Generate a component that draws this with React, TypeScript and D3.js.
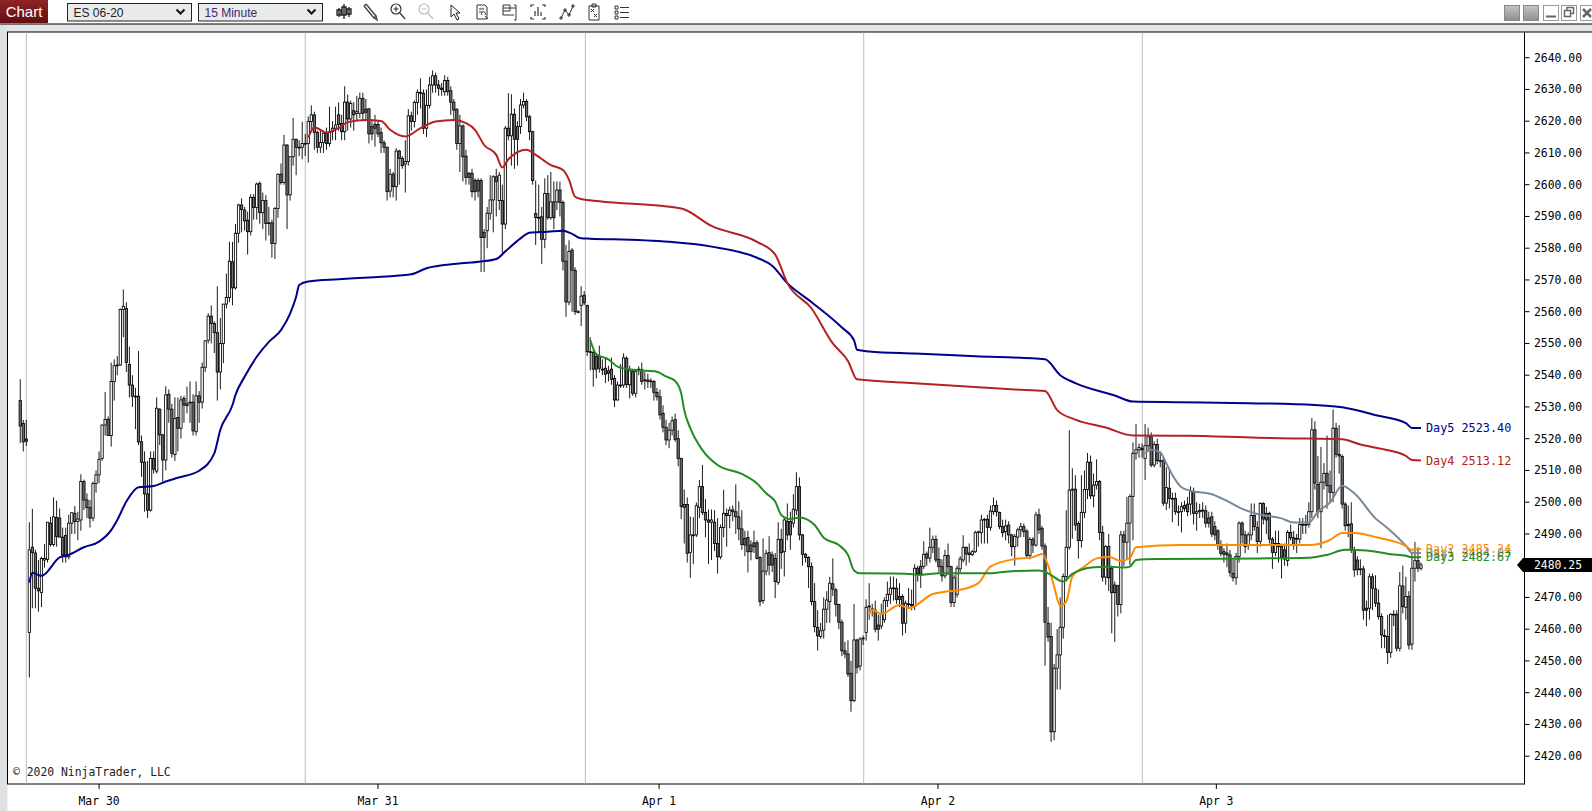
import React, { useRef, useEffect } from 'react';
import * as d3 from 'd3';

type Candle = [number, number, number, number]; // open, high, low, close
type LinePoint = [number, number]; // bar number, price

const WIDTH = 1592;
const HEIGHT = 811;

const candlesMar27: Candle[] = [
  [2532, 2538.7, 2518.6, 2524], [2524.8, 2525.9, 2516, 2519], [2519.9, 2525.9, 2517.7, 2519.2],
];

const candlesMar30: Candle[] = [
  [2459, 2493.7, 2444.8, 2485], [2485.8, 2497.9, 2466.6, 2484.1], [2484, 2485, 2466.6, 2472.9], [2472.9, 2481.8, 2465.5, 2472.1],
  [2471.6, 2482.8, 2467, 2482.3], [2481.8, 2486.8, 2479.4, 2482.3], [2482, 2493.7, 2481, 2493.7], [2493.4, 2495.4, 2486, 2486.7],
  [2486.7, 2501.5, 2486, 2495.4], [2495.2, 2500.5, 2486, 2489.2], [2495, 2498, 2489, 2489], [2489, 2492, 2481, 2483.4],
  [2489.5, 2492, 2481, 2482.8], [2482.8, 2496, 2482, 2493.4], [2493.4, 2496.7, 2490, 2496.7], [2496.5, 2498.8, 2490, 2493.9],
  [2493.9, 2497, 2488, 2494.7], [2494.4, 2508.8, 2491, 2506.5], [2506.5, 2507.1, 2497.5, 2500.7], [2500.7, 2502.8, 2495, 2498.3],
  [2498.3, 2500.7, 2492, 2495], [2495, 2506.5, 2494, 2505.9], [2505.9, 2510, 2503, 2508.6], [2508.6, 2516, 2506, 2513.5],
  [2513.8, 2524.5, 2513, 2524.3], [2524.3, 2534.7, 2521, 2526.1], [2526.1, 2527, 2521, 2521], [2521, 2544, 2517.5, 2538],
  [2538, 2545, 2532, 2543], [2543, 2546, 2540, 2543.2], [2543.2, 2561, 2543, 2560.7], [2560.7, 2567, 2552, 2561.7],
  [2561, 2563, 2541, 2544], [2543.4, 2549, 2533, 2536.9], [2536.9, 2540, 2530, 2533.4], [2533.4, 2536, 2523, 2533.4],
  [2533.4, 2547.6, 2518, 2519], [2519, 2521, 2508, 2512.6], [2512.6, 2516, 2497, 2502.6], [2502.6, 2513, 2495, 2497.5],
  [2497.5, 2516, 2497, 2513.8], [2513.8, 2516, 2509, 2510.4], [2509.8, 2533, 2509, 2529.6], [2529.3, 2529.6, 2518, 2521.2],
  [2521.2, 2521.5, 2506.5, 2513.3], [2513.3, 2536.5, 2510, 2533.8], [2534, 2535.5, 2525, 2529.3], [2529.3, 2531, 2514, 2515.4],
  [2515, 2533, 2513, 2526.4], [2526.7, 2533, 2516, 2523.3], [2523.3, 2533.5, 2520, 2532.2], [2532.7, 2533.5, 2525, 2530.6],
  [2531, 2536.4, 2528, 2530.4], [2531.4, 2538, 2525, 2531.5], [2531.5, 2534, 2521, 2522.5], [2522.2, 2538, 2521, 2533.5],
  [2533.5, 2535, 2525, 2531.5], [2531.5, 2544, 2529.5, 2542.5], [2542.5, 2551, 2541, 2550.8], [2551, 2559.5, 2550, 2558.6],
  [2558.6, 2562, 2550, 2556.3], [2556.3, 2557, 2547, 2553.4], [2553.4, 2568, 2532, 2541], [2541, 2558, 2535.5, 2550],
  [2550, 2562.4, 2543.8, 2562.4], [2562.4, 2572, 2561, 2564.5], [2564.5, 2582, 2563, 2575.9], [2575.7, 2582, 2562, 2567.5],
  [2567.5, 2587.6, 2567, 2584.7], [2584.7, 2594, 2581.7, 2593.6], [2593.6, 2595.7, 2585, 2592.2], [2592, 2593, 2585.5, 2588.6],
  [2588.8, 2591.5, 2578, 2585.2], [2585.2, 2597, 2584, 2596], [2596, 2597, 2589, 2592.8], [2592.8, 2600.7, 2589, 2600.2],
  [2600.4, 2601, 2587.7, 2591.2], [2591.2, 2597.5, 2586, 2595], [2595, 2596.7, 2582.4, 2587.8], [2588, 2593, 2584, 2588],
  [2588, 2589, 2577, 2581.5], [2581.5, 2593, 2576.6, 2592.5], [2592.5, 2603.5, 2589.6, 2603.3], [2603.3, 2606.7, 2600, 2600.7],
  [2600.7, 2615.7, 2600, 2612.5], [2612.5, 2612.7, 2586, 2596.8], [2596.8, 2609, 2595, 2608.8], [2608.8, 2621, 2606, 2614.3],
  [2614.3, 2614.5, 2603, 2611.8], [2611.8, 2614, 2609, 2611.8], [2611.8, 2619.8, 2608, 2613], [2613, 2616, 2609, 2613],
];

const candlesMar31: Candle[] = [
  [2613, 2621.5, 2607, 2619.9], [2619.9, 2625, 2617, 2622], [2622, 2623, 2611, 2616.5], [2616.5, 2617, 2610, 2611.8],
  [2611.8, 2617, 2610, 2613.3], [2613.3, 2617, 2610, 2616.2], [2616.2, 2618, 2611, 2613], [2613, 2624.6, 2612, 2616.7],
  [2616.7, 2620, 2614, 2617.8], [2617.8, 2624.6, 2614, 2618.8], [2622, 2625.9, 2617, 2619], [2619.3, 2622, 2614, 2616.7],
  [2616.7, 2631, 2614, 2626], [2626, 2628.4, 2617, 2620.7], [2620.7, 2626.5, 2618, 2625.6], [2623.3, 2626, 2617, 2622],
  [2622.4, 2628, 2620, 2623], [2622.5, 2629, 2621, 2627.2], [2627.2, 2629, 2620, 2622.5], [2623.8, 2627, 2620, 2622.8],
  [2623.9, 2624, 2613, 2616], [2618.3, 2620, 2614, 2616], [2619, 2622, 2612, 2617.8], [2619, 2620, 2615, 2616],
  [2616.4, 2618, 2610, 2613.2], [2613.2, 2614, 2610, 2611.8], [2611.8, 2612, 2595, 2597.8], [2598, 2605, 2596, 2603.3],
  [2603.3, 2604, 2596, 2599.4], [2599.4, 2611.5, 2595, 2610.6], [2610.6, 2611, 2600, 2608.3], [2608.3, 2609, 2605, 2606],
  [2606.5, 2614, 2597.5, 2607.3], [2607.3, 2623.8, 2606, 2621.7], [2621.7, 2623, 2617, 2619.9], [2619.9, 2626.5, 2618, 2625.9],
  [2625.9, 2630, 2622, 2629.1], [2629.1, 2633.5, 2624, 2628.8], [2628.8, 2630, 2616, 2617.8], [2617.8, 2630, 2615, 2625],
  [2625, 2634, 2624, 2631.4], [2631.4, 2636, 2629, 2634.3], [2634.3, 2635.3, 2629, 2631.4], [2631.4, 2633, 2628, 2630.4],
  [2630.4, 2632, 2628, 2630], [2629.3, 2634.5, 2628, 2632.8], [2632.8, 2634, 2628, 2629.3], [2629.6, 2631, 2622, 2626],
  [2626, 2627, 2620, 2623.5], [2623.8, 2624, 2611, 2613], [2613, 2622, 2604, 2618.5], [2618.5, 2619, 2601, 2608.8],
  [2609, 2611, 2600, 2602.3], [2603.6, 2604, 2600, 2602.3], [2603.6, 2605, 2596, 2597.8], [2601.3, 2602, 2595, 2597.8],
  [2601.3, 2602, 2596, 2598], [2601.3, 2602, 2572.5, 2583.4], [2585, 2586, 2572.5, 2583.4], [2585.5, 2593, 2580, 2591],
  [2591, 2603, 2589, 2595.2], [2595.2, 2603, 2585, 2602.5], [2602.5, 2605, 2590, 2601], [2595, 2604, 2592, 2603],
  [2595, 2600, 2578.5, 2587.6], [2587.6, 2618.5, 2586, 2617.8], [2617.8, 2628.8, 2614, 2615.4], [2615.4, 2628.5, 2606, 2622.2],
  [2622.2, 2624, 2605, 2614.3], [2618.3, 2620, 2606, 2614.3], [2618.3, 2627, 2616, 2625.1], [2625.1, 2629, 2624, 2626.2],
  [2626.2, 2627, 2620, 2621.4], [2621.4, 2622, 2614, 2616.7], [2616.7, 2617, 2600, 2601.3], [2590.9, 2601.3, 2581, 2589.7],
  [2589.7, 2600, 2585, 2589.6], [2589.9, 2593, 2575, 2582.8], [2582.8, 2602, 2580, 2597.2], [2597.2, 2603, 2589, 2589.6],
  [2589.6, 2604, 2589, 2594.6], [2594.6, 2601, 2586, 2589.6], [2594.6, 2601, 2592, 2598.3], [2598.3, 2601, 2590, 2594.4],
  [2594.4, 2595, 2573, 2575.9], [2575.9, 2581, 2558.4, 2563.1], [2563, 2582.5, 2562, 2579], [2579.4, 2580, 2560, 2573.1],
  [2573, 2574, 2559, 2560], [2560, 2560.5, 2559.5, 2560], [2562, 2568, 2555.5, 2564.9], [2565.2, 2566.5, 2562, 2562.8],
];

const candlesApr1: Candle[] = [
  [2562, 2562.2, 2546, 2547.4], [2547.4, 2552, 2541.5, 2547.2], [2547.2, 2548, 2536.4, 2541.9], [2545.9, 2547, 2539, 2541.9],
  [2545.9, 2549.3, 2540.8, 2542.2], [2541.8, 2545, 2540, 2541.9], [2542.2, 2545.5, 2537.5, 2540.3], [2541.4, 2543, 2538, 2540.6],
  [2541.9, 2545.5, 2537, 2538.7], [2539, 2540, 2530, 2532.2], [2532.2, 2538, 2532, 2536.9], [2536.9, 2543.5, 2536, 2536.9],
  [2536.9, 2546.9, 2536, 2545.5], [2545.3, 2546, 2536, 2537.1], [2537, 2543, 2532.7, 2541.4], [2541.1, 2542, 2533.5, 2534.3],
  [2534.3, 2542, 2533, 2541.1], [2541.6, 2542.8, 2540, 2541.9], [2541.7, 2544, 2537, 2538], [2538.5, 2541, 2535.5, 2538.5],
  [2538.5, 2540.5, 2536, 2538], [2538.2, 2539, 2536, 2538], [2538, 2538.5, 2532, 2534.6], [2534.6, 2536, 2532, 2533.2],
  [2533.2, 2535.5, 2526, 2527.5], [2528, 2530.5, 2522, 2523.6], [2523.6, 2526, 2518, 2519.6], [2519.6, 2525, 2517, 2522.7],
  [2522.7, 2527, 2521, 2525.6], [2526, 2527.9, 2519, 2519.8], [2520, 2522.6, 2511.3, 2513.8], [2513.8, 2514, 2494.7, 2498.6],
  [2499.3, 2504, 2487, 2498.4], [2499.3, 2501.5, 2481, 2483.9], [2484.2, 2495.5, 2476.2, 2489.7], [2489.7, 2495.3, 2480.5, 2489.7],
  [2489.7, 2499.9, 2489, 2498.9], [2498.4, 2507, 2495, 2504.9], [2504.9, 2511.7, 2496, 2496.8], [2496.8, 2501, 2489, 2494.4],
  [2494.4, 2497.7, 2480.5, 2493.7], [2493.7, 2497.7, 2481.8, 2494.4], [2493.7, 2497.5, 2484.6, 2487], [2487, 2495, 2477.5, 2482.8],
  [2482.8, 2493, 2482, 2492], [2492, 2503.9, 2489, 2496.5], [2496.4, 2498, 2486, 2495.8], [2495.8, 2498.6, 2491.8, 2497.5],
  [2497.6, 2499, 2494, 2497], [2497, 2505.6, 2490, 2495.4], [2495.4, 2500.3, 2488, 2491.6], [2491.6, 2497.5, 2485, 2486.7],
  [2488.6, 2491, 2483, 2486.5], [2488.9, 2491, 2477.9, 2484.4], [2486.5, 2488, 2481.7, 2484.4], [2487.2, 2491, 2484, 2486],
  [2487.2, 2488, 2482, 2482.3], [2482.6, 2483, 2467.2, 2468.7], [2469, 2488.6, 2468, 2478.3], [2478.3, 2485, 2477, 2483.9],
  [2484.1, 2489.3, 2477, 2480.2], [2483.4, 2484.5, 2478, 2480.2], [2482.3, 2484, 2469.8, 2475], [2474.7, 2493.7, 2474, 2488.3],
  [2488.3, 2491.6, 2479, 2484.1], [2484.4, 2495, 2476.6, 2494.4], [2494, 2499.6, 2488, 2489.7], [2493.9, 2497, 2485, 2489.7],
  [2493.4, 2502.5, 2492, 2497.8], [2497.5, 2509.4, 2496, 2504.9], [2504.9, 2507.8, 2488, 2489.7], [2489.7, 2490, 2480, 2483.6],
  [2483.6, 2484, 2481, 2482.6], [2482.6, 2483, 2473, 2479.7], [2479.7, 2481, 2467.5, 2468.7], [2468.7, 2474.5, 2459, 2460.8],
  [2460.6, 2466, 2453.3, 2457.9], [2457.7, 2462, 2457, 2459.5], [2459.7, 2470, 2457, 2466.3], [2466.3, 2472, 2462, 2469.2],
  [2468.7, 2476.5, 2462, 2474.5], [2474.3, 2482.3, 2470.5, 2472.6], [2472.4, 2473, 2464, 2467.8], [2467.8, 2468, 2460, 2462.2],
  [2462.2, 2463, 2451.5, 2453.2], [2453.2, 2456, 2450.8, 2452.2], [2452.2, 2456.5, 2445, 2445.9], [2446.1, 2450, 2434, 2437.5],
  [2437.5, 2468, 2437, 2456.6], [2456.6, 2457, 2446, 2448], [2448.4, 2457.5, 2447, 2456.9], [2457, 2458, 2455, 2457.2],
];

const candlesApr2: Candle[] = [
  [2459, 2469.4, 2456.4, 2466.9], [2467, 2474.5, 2463, 2467.3], [2466.4, 2468, 2464, 2466], [2466, 2469, 2459, 2460],
  [2461.3, 2464.5, 2456.4, 2460], [2461, 2468, 2460, 2464.9], [2463, 2470, 2462, 2469], [2469, 2475, 2467, 2471],
  [2471, 2476.6, 2468, 2472.9], [2472.9, 2476.6, 2469, 2473], [2472.9, 2476, 2468, 2469.4], [2470.3, 2474.5, 2467, 2469.4],
  [2470.3, 2471, 2458, 2461.9], [2461.9, 2469, 2458.8, 2468.2], [2468, 2473, 2466.5, 2468], [2467.8, 2472.5, 2466, 2467.4],
  [2467.2, 2480.5, 2466, 2479.2], [2479.2, 2480, 2475, 2477.5], [2479.8, 2481.8, 2473, 2477.4], [2479.8, 2487.7, 2479, 2483.6],
  [2483.7, 2484.5, 2480, 2482.4], [2482.4, 2492, 2481, 2485.8], [2485.8, 2489.5, 2484, 2488.3], [2488.3, 2489.5, 2481, 2481.8],
  [2482, 2485.7, 2478, 2479.7], [2479.7, 2482, 2475, 2476.8], [2476.8, 2485, 2476, 2483.2], [2483.2, 2487, 2477, 2479.7],
  [2479.7, 2480, 2467, 2468.4], [2468.4, 2477, 2467, 2476.2], [2471, 2480, 2470, 2479.2], [2479, 2483, 2478, 2482.1],
  [2481.8, 2489.6, 2481, 2485.8], [2485.8, 2486, 2480, 2483.7], [2484, 2487, 2481, 2483.5], [2483.5, 2485, 2483, 2484.4],
  [2484.4, 2491, 2484, 2490.4], [2490.6, 2491, 2486, 2490.7], [2490.4, 2496, 2487, 2494.4], [2494.6, 2495, 2487, 2494.6],
  [2494.6, 2496, 2487, 2492.1], [2492.1, 2499, 2491, 2497.2], [2497, 2501.5, 2496, 2498.9], [2499, 2500.5, 2495.5, 2497],
  [2496.8, 2497, 2491.5, 2492.3], [2492.3, 2494.5, 2489, 2490.4], [2490.7, 2494.5, 2488, 2492.5], [2492.8, 2494, 2487, 2489.7],
  [2489.7, 2490, 2483, 2486], [2486, 2490, 2480, 2489.2], [2489, 2492, 2486, 2491.3], [2491.3, 2493.5, 2489, 2492.3],
  [2492.3, 2493.3, 2489, 2490.7], [2490.9, 2491.5, 2482.5, 2483.2], [2483.2, 2489, 2482, 2488.3], [2488.3, 2489, 2484, 2486.5],
  [2486.5, 2497, 2486, 2496], [2496, 2498, 2490, 2491.3], [2491.8, 2492.5, 2485, 2486.2], [2486.2, 2487, 2448.5, 2462.2],
  [2461.9, 2467, 2456, 2457.5], [2457.7, 2462, 2424.5, 2427.7], [2427.7, 2449, 2425, 2447.7], [2447.7, 2460, 2441, 2451.9],
  [2451.9, 2470, 2441, 2460.6], [2460.6, 2477.5, 2457, 2476.6], [2476.6, 2497.5, 2475, 2485.8], [2485.8, 2522.7, 2485, 2503.8],
  [2503.8, 2510.7, 2488.5, 2504.1], [2504.1, 2508.5, 2491, 2492.8], [2493.3, 2494, 2482.2, 2487.9], [2487.9, 2508.5, 2485.7, 2496.8],
  [2496.8, 2510, 2495, 2504], [2504, 2515.5, 2501, 2512.6], [2512.6, 2514.7, 2501, 2502], [2502, 2509, 2498.4, 2505.4],
  [2505.4, 2513.5, 2504, 2506.5], [2506.5, 2507, 2488, 2490.5], [2490.5, 2492.6, 2475, 2476.4], [2476.4, 2486.5, 2474, 2486],
  [2486, 2490, 2472, 2476.2], [2479.2, 2480, 2458.7, 2471.5], [2473.9, 2475, 2456, 2471.5], [2473.7, 2474, 2464, 2467.8],
  [2467.8, 2491, 2465, 2489.7], [2489.7, 2491, 2480, 2487.4], [2487.4, 2501.6, 2482, 2493.4], [2493.4, 2502.5, 2480.2, 2501.8],
  [2501.8, 2518.8, 2488, 2515.4], [2515.4, 2524.6, 2513.4, 2516.5], [2516.5, 2518.5, 2514, 2517.2], [2517, 2518.5, 2514, 2516.5],
];

const candlesApr3: Candle[] = [
  [2513.8, 2524.6, 2507, 2517.8], [2517.8, 2523.5, 2516, 2520.6], [2520.6, 2522, 2511, 2511.7], [2511.7, 2519.2, 2511, 2518.2],
  [2518.2, 2520, 2512, 2513.1], [2513.1, 2516, 2511, 2513.1], [2513.1, 2514, 2498.8, 2499.7], [2499.7, 2511, 2497.5, 2504.6],
  [2504.4, 2510.5, 2498, 2501.2], [2501.2, 2503, 2493.7, 2501], [2501.2, 2503, 2496, 2497], [2497, 2499, 2492.5, 2497],
  [2497, 2500, 2490.5, 2498.6], [2499, 2500.5, 2497, 2498], [2499.4, 2501.7, 2495.6, 2497], [2499.4, 2505, 2496, 2503.3],
  [2503.3, 2504.6, 2493, 2496.5], [2496.5, 2500, 2491, 2497], [2497, 2499.5, 2495, 2497.4], [2497.5, 2500, 2495, 2497.2],
  [2497.3, 2499, 2492, 2493.4], [2495, 2497, 2492, 2493.4], [2495.4, 2497, 2489, 2490], [2492.3, 2494, 2488, 2489.7],
  [2491, 2491.5, 2485, 2486.5], [2486.5, 2488, 2483, 2483.9], [2484.4, 2485.5, 2481, 2483.6], [2484, 2487, 2479.5, 2483.4],
  [2483.4, 2485, 2476.5, 2477.9], [2477.6, 2482, 2475, 2476.2], [2476.2, 2484, 2474, 2482.9], [2482.9, 2494, 2481, 2493.4],
  [2493.4, 2494, 2487, 2489.7], [2489.7, 2491, 2484, 2486], [2486.3, 2490.5, 2485, 2489.7], [2489.7, 2499.6, 2488, 2495.8],
  [2495.8, 2499.6, 2491, 2492.3], [2492, 2494, 2484, 2487.6], [2487.6, 2500, 2486, 2499.6], [2499.6, 2500, 2493, 2494.7],
  [2496.5, 2498.5, 2490, 2494.4], [2496.5, 2497, 2487, 2488.4], [2488.4, 2489, 2479, 2484.2], [2484.2, 2491, 2483, 2487],
  [2487, 2491, 2481, 2486], [2486, 2487, 2476, 2482.7], [2485, 2487, 2480, 2482.1], [2481.6, 2491.2, 2479.8, 2490.5],
  [2490.5, 2493, 2488, 2488.8], [2488.8, 2491, 2485, 2486.7], [2488.6, 2490, 2484, 2488.4], [2488.4, 2495, 2487, 2493],
  [2493, 2495, 2490, 2493], [2493, 2496, 2490, 2493], [2493, 2500, 2492, 2497], [2497, 2526.5, 2495, 2522.8],
  [2522.8, 2525.5, 2504, 2506], [2505.6, 2514.5, 2495, 2497], [2497, 2517.4, 2485.5, 2506.3], [2506.3, 2512.3, 2504, 2509.1],
  [2509.1, 2521, 2498, 2505.2], [2505.2, 2510, 2500, 2503.1], [2503.1, 2529.2, 2500, 2523.3], [2523.3, 2525, 2514, 2515.1],
  [2515.1, 2524.3, 2509, 2514.6], [2514.4, 2515, 2498, 2499.4], [2499.4, 2500, 2491, 2492.6], [2493, 2499, 2489, 2492.6],
  [2493.2, 2500, 2484, 2485], [2485, 2486, 2476.5, 2478.7], [2481.8, 2483, 2477, 2478.7], [2479, 2482, 2477, 2479],
  [2479, 2480, 2463, 2466], [2466.6, 2469, 2460.9, 2466], [2466.6, 2477.5, 2463, 2476.5], [2476.5, 2477.5, 2466, 2472.9],
  [2472.7, 2477, 2467, 2468.2], [2468.2, 2472.5, 2463, 2464], [2464, 2465, 2454, 2458.2], [2458, 2460, 2454, 2457.7],
  [2457.7, 2464.5, 2449, 2452.7], [2452.7, 2465, 2451, 2464.7], [2464.7, 2466, 2461, 2464.7], [2464.7, 2466, 2453, 2454],
  [2454, 2478, 2453, 2473.7], [2473.6, 2480, 2465, 2467.1], [2466.9, 2476.5, 2463, 2470.3], [2470.3, 2472, 2453.6, 2455],
  [2455.3, 2484, 2453.5, 2479.2], [2479.2, 2487.5, 2475, 2481.6], [2481.6, 2485.8, 2478, 2479.2], [2479.2, 2481, 2478.5, 2480.25],
];

const day5Line: LinePoint[] = [
  [3, 2474.7], [4, 2477.8], [7, 2476.8], [13, 2482.6], [16, 2483.4], [21, 2485.8], [26, 2487.6], [30, 2491.2], [32, 2494.4],
  [35, 2500.2], [39, 2504.7], [44, 2505.1], [48, 2506.5], [52, 2507.7], [59, 2509.9], [64, 2515.4], [66, 2522.8], [70, 2530.6],
  [71, 2533.8], [74, 2539.5], [78, 2545.8], [82, 2550.5], [86, 2554.2], [89, 2559.4], [91, 2564.7], [92, 2568.4], [95, 2569.5],
  [105, 2570.2], [115, 2570.8], [129, 2571.8], [134, 2573.7], [144, 2575.1], [152, 2575.8], [157, 2576.6], [160, 2579],
  [165, 2583.1], [168, 2584.9], [174, 2585.2], [179, 2585.5], [182, 2584.5], [185, 2583.1], [188, 2583], [214, 2582],
  [228, 2580.5], [243, 2577], [248, 2574.5], [253, 2569], [261, 2563], [271, 2555], [275, 2551], [276, 2548], [280, 2547.5],
  [295, 2546.8], [315, 2546], [338, 2545], [343, 2540], [348, 2537.5], [361, 2533.6], [367, 2531.7], [382, 2531.5], [405, 2531.2],
  [427, 2530.6], [436, 2529.9], [448, 2527.2], [457, 2524.9], [459, 2523.4], [462, 2523.4],
];

const day4Line: LinePoint[] = [
  [95, 2614.8], [97, 2618.1], [101, 2616.4], [105, 2617.8], [108, 2619.7], [114, 2620.4], [119, 2620.1], [122, 2617.3],
  [127, 2615.2], [132, 2617.8], [137, 2619.9], [143, 2620.4], [147, 2619.4], [150, 2617.3], [153, 2612.5], [157, 2609.4],
  [159, 2605.4], [161, 2608], [167, 2611], [170, 2609.4], [175, 2606.2], [179, 2604.6], [181, 2601.5], [183, 2596.2],
  [185, 2595.5], [191, 2594.8], [218, 2592.5], [228, 2587], [243, 2582], [249, 2578], [253, 2569], [261, 2561], [268, 2550],
  [273, 2544.5], [276, 2538.7], [295, 2537.5], [328, 2535.5], [338, 2535], [342, 2529], [348, 2526], [358, 2523.5], [367, 2521],
  [385, 2520.9], [408, 2520.3], [420, 2520.1], [436, 2519.8], [442, 2518.2], [449, 2516.8], [457, 2514.6], [459, 2513.3], [462, 2513.12],
];

const day3Line: LinePoint[] = [
  [188, 2551.1], [190, 2546.6], [194, 2545], [197, 2542.7], [203, 2541.6], [210, 2541.1], [213, 2539.6], [216, 2538.2], [218, 2534.3],
  [219, 2529], [221, 2523.3], [225, 2516.4], [230, 2511.7], [238, 2508.9], [243, 2505.9], [246, 2502.8], [249, 2500.2], [251, 2496],
  [254, 2494.7], [257, 2495.2], [262, 2492.8], [265, 2488.8], [270, 2486.5], [273, 2483.4], [275, 2478.5], [277, 2477.6], [292, 2477.5],
  [297, 2477.1], [303, 2477.6], [319, 2477.6], [325, 2478.1], [336, 2478.5], [339, 2477.6], [344, 2475], [347, 2477.4], [354, 2479.5],
  [359, 2479.7], [364, 2479.4], [366, 2479.7], [368, 2481.8], [375, 2482.1], [408, 2482.3], [425, 2482.5], [431, 2483.4], [437, 2485],
  [444, 2484.8], [452, 2483.6], [457, 2483.1], [459, 2482.7], [462, 2482.67],
];

const day2Line: LinePoint[] = [
  [280, 2464.5], [281, 2466.1], [284, 2464.8], [290, 2467.6], [293, 2466.6], [301, 2471.1], [305, 2471.8], [310, 2472.4],
  [316, 2474.5], [320, 2479.7], [328, 2482.1], [334, 2482.7], [337, 2483.7], [339, 2480.2], [341, 2473.4], [343, 2467.4],
  [345, 2468.7], [347, 2476.6], [351, 2479.7], [355, 2482.3], [359, 2482.8], [363, 2481.5], [366, 2482.5], [368, 2485.8],
  [383, 2486.5], [425, 2486.5], [432, 2488.1], [436, 2490.3], [440, 2490.3], [448, 2488.8], [457, 2486.2], [459, 2485], [462, 2485.24],
];

const day1Line: LinePoint[] = [
  [371, 2515.4], [373, 2516.5], [376, 2515.7], [378, 2512.2], [380, 2508.6], [383, 2504.7], [386, 2503.6], [393, 2502.5],
  [398, 2500.4], [403, 2497.9], [408, 2496.3], [416, 2494.9], [420, 2493.6], [425, 2493.6], [428, 2497], [432, 2499.9],
  [436, 2505.2], [440, 2502.8], [447, 2494.9], [451, 2491.8], [457, 2486.3], [459, 2484.1], [462, 2484],
];

const priceTicks = [2420, 2430, 2440, 2450, 2460, 2470, 2480, 2490, 2500, 2510, 2520, 2530, 2540, 2550, 2560, 2570, 2580, 2590, 2600, 2610, 2620, 2630, 2640];
const sessionBreaks = [2, 94, 186.4, 278.2, 370.1];
const dateTicks = [26, 118, 210.7, 302.7, 394.5];
const dateLabels = ['Mar 30', 'Mar 31', 'Apr 1', 'Apr 2', 'Apr 3'];
const lastPrice = 2480.25;

const indicators = [
  { name: 'Day5', value: 2523.40, color: '#00008b', points: day5Line },
  { name: 'Day4', value: 2513.12, color: '#b22222', points: day4Line },
  { name: 'Day1', value: 2484.03, color: '#778899', points: day1Line },
  { name: 'Day2', value: 2485.24, color: '#ff8c00', points: day2Line },
  { name: 'Day3', value: 2482.67, color: '#228b22', points: day3Line },
];

const MONO = '"DejaVu Sans Mono", monospace';
const SANS = '"Liberation Sans", Arial, sans-serif';

const App: React.FC = () => {
  const svgRef = useRef<SVGSVGElement>(null);

  useEffect(() => {
    if (!svgRef.current) return;
    document.body.style.margin = '0';

    const svg = d3.select(svgRef.current);
    svg.selectAll('*').remove();

    const left = 7.5;
    const right = 1524.5;
    const top = 32;
    const bottom = 784;

    const allCandles = [...candlesMar27, ...candlesMar30, ...candlesMar31, ...candlesApr1, ...candlesApr2, ...candlesApr3];

    // bar number -> pixel, 92 bars to the session
    const x = d3.scaleLinear().domain([0, 92]).range([20.24, 20.24 + 278.94]);
    const y = d3.scaleLinear().domain([2420, 2640]).range([756.2, 57.7]);

    // window chrome
    svg.append('rect').attr('width', WIDTH).attr('height', HEIGHT).attr('fill', 'white');
    svg.append('rect').attr('x', 0).attr('y', 24).attr('width', WIDTH).attr('height', 8).attr('fill', '#e4e5e7');
    svg.append('rect').attr('x', 0).attr('y', 24).attr('width', left).attr('height', HEIGHT - 24).attr('fill', '#dfe0e3');
    svg.append('line').attr('x1', 0).attr('x2', WIDTH).attr('y1', 24).attr('y2', 24).attr('stroke', 'black');

    const defs = svg.append('defs');
    const chartBtn = defs.append('linearGradient').attr('id', 'chart-btn').attr('x2', 0).attr('y2', 1);
    chartBtn.append('stop').attr('offset', 0).attr('stop-color', '#8e2427');
    chartBtn.append('stop').attr('offset', 1).attr('stop-color', '#650d10');
    const winBtn = defs.append('linearGradient').attr('id', 'win-btn').attr('x2', 0).attr('y2', 1);
    winBtn.append('stop').attr('offset', 0).attr('stop-color', '#c4c4c4');
    winBtn.append('stop').attr('offset', 1).attr('stop-color', '#8f8f8f');

    svg.append('rect').attr('width', 48).attr('height', 23).attr('fill', 'url(#chart-btn)');
    svg.append('text').attr('x', 24).attr('y', 17).attr('text-anchor', 'middle').style('font-family', SANS)
      .style('font-size', '15px').style('fill', 'white').text('Chart');

    const selects = [
      { x: 67.5, w: 124, label: 'ES 06-20', color: '#222' },
      { x: 198.5, w: 124, label: '15 Minute', color: '#3a2a7a' },
    ];
    selects.forEach(s => {
      svg.append('rect').attr('x', s.x).attr('y', 3.5).attr('width', s.w).attr('height', 17.5)
        .attr('fill', '#e9eaea').attr('stroke', '#222');
      svg.append('text').attr('x', s.x + 6).attr('y', 16.5).style('font-family', SANS).style('font-size', '12px')
        .style('fill', s.color).text(s.label);
      svg.append('path').attr('d', `M${s.x + 109},9.5l4,4l4,-4`).attr('fill', 'none').attr('stroke', '#111').attr('stroke-width', 2);
    });

    // toolbar icons
    const icons = [
      { x: 344, d: 'M-5,-4v9M0,-8v15M5,-5v10M-7,-2h4v5h-4zM-2,-5h4v8h-4zM3,-3h4v5h-4z', s: '#222', w: 1.4 },
      { x: 370, d: 'M-6,-6L4,6M-4,-8L6,4M-6,-6L-4,-8M4,6L6,4L7,8z', s: '#444', w: 1.4 },
      { x: 398, d: 'M-7,-3a5,5 0 1,0 10,0a5,5 0 1,0 -10,0M-4.5,-3h5M-2,-5.5v5M2,1L7,7', s: '#333', w: 1.2 },
      { x: 426, d: 'M-7,-3a5,5 0 1,0 10,0a5,5 0 1,0 -10,0M-4.5,-3h5M2,1L7,7', s: '#bbb', w: 1.2 },
      { x: 454, d: 'M-3,-7V5L0,2L3,8L5,7L2,1H6z', s: '#222', w: 1 },
      { x: 482, d: 'M-5,-7H3L5,-5V7H-5zM-3,-3h5M-3,0h3M3,3a2,2 0 1,0 -3,0M3,4L6,7', s: '#333', w: 1 },
      { x: 509, d: 'M-6,-7H1V-1H-6zM-6,-4H1M1,-4H7M5,-7H7V8H5M-6,-1V3H5', s: '#333', w: 1 },
      { x: 538, d: 'M-7,-5V-7H-4M4,-7H7V-5M-7,5V7H-4M4,7H7V5M-3,4V-1M0,4V-5M3,4V0', s: '#333', w: 1.2 },
      { x: 567, d: 'M-6,6L-2,-2L2,3L6,-6M-7,5h2v2h-2zM-3,-3h2v2h-2zM1,2h2v2h-2zM5,-7h2v2h-2z', s: '#333', w: 1 },
      { x: 594, d: 'M-5,-6H5V8H-5zM-2,-8H2V-5H-2zM-3,-3L0,0M0,-3L-3,0M0,2L3,5M3,2L0,5', s: '#333', w: 1 },
      { x: 622, d: 'M-7,-6h3v3h-3zM-7,-1h3v3h-3zM-7,4h3v3h-3zM-2,-4.5H7M-2,0.5H7M-2,5.5H7', s: '#333', w: 1 },
    ];
    icons.forEach(ic => {
      svg.append('path').attr('transform', `translate(${ic.x},12)`).attr('d', ic.d)
        .attr('fill', 'none').attr('stroke', ic.s).attr('stroke-width', ic.w);
    });

    // window buttons
    [1504, 1523].forEach(bx => {
      svg.append('rect').attr('x', bx + 0.5).attr('y', 5.5).attr('width', 15).attr('height', 15)
        .attr('fill', 'url(#win-btn)').attr('stroke', '#888');
    });
    [1543, 1561, 1580].forEach(bx => {
      svg.append('rect').attr('x', bx + 0.5).attr('y', 5.5).attr('width', 15).attr('height', 15)
        .attr('fill', 'white').attr('stroke', '#999');
    });
    svg.append('path').attr('d', 'M1546,16.5h10').attr('stroke', '#666').attr('stroke-width', 2);
    svg.append('path').attr('d', 'M1564.5,10.5h6v6h-6zM1567,10v-2.5h6.5v6h-3').attr('fill', 'none').attr('stroke', '#666').attr('stroke-width', 1.5);
    svg.append('path').attr('d', 'M1583,9l8,8M1591,9l-8,8').attr('stroke', '#666').attr('stroke-width', 2.5);

    // plot frame
    svg.append('rect').attr('x', left).attr('y', top).attr('width', right - left).attr('height', bottom - top)
      .attr('fill', 'white').attr('stroke', 'black');
    svg.append('line').attr('x1', right).attr('x2', WIDTH).attr('y1', top).attr('y2', top).attr('stroke', 'black');

    // session separators
    svg.selectAll('.session').data(sessionBreaks).enter().append('line')
      .attr('class', 'session')
      .attr('x1', d => x(d)).attr('x2', d => x(d))
      .attr('y1', top + 0.5).attr('y2', bottom - 0.5)
      .attr('stroke', '#bdbdbd');

    // candles
    const bars = svg.append('g').selectAll('g').data(allCandles).enter().append('g');
    bars.append('line')
      .attr('x1', (_, i) => x(i)).attr('x2', (_, i) => x(i))
      .attr('y1', d => y(d[1])).attr('y2', d => y(d[2]))
      .attr('stroke', 'black')
      .attr('stroke-width', 0.9);
    bars.append('rect')
      .attr('x', (_, i) => x(i) - 1.15)
      .attr('width', 2.3)
      .attr('y', d => y(Math.max(d[0], d[3])))
      .attr('height', d => Math.max(0.8, Math.abs(y(d[0]) - y(d[3]))))
      .attr('fill', d => (d[3] >= d[0] ? 'white' : '#6e6e6e'))
      .attr('stroke', 'black')
      .attr('stroke-width', 0.85);

    // day lines
    const line = d3.line<LinePoint>().x(d => x(d[0])).y(d => y(d[1])).curve(d3.curveMonotoneX);
    indicators.forEach(ind => {
      svg.append('path').attr('d', line(ind.points)).attr('fill', 'none').attr('stroke', ind.color).attr('stroke-width', 2);
    });

    // labels at the end of the lines
    indicators.forEach(ind => {
      svg.append('text')
        .attr('x', 1426)
        .attr('y', y(ind.value) + 4)
        .style('font-family', MONO)
        .style('font-size', '11.8px')
        .style('fill', ind.color)
        .text(`${ind.name} ${ind.value.toFixed(2)}`);
    });

    // price axis
    svg.selectAll('.p-tick').data(priceTicks).enter().append('line')
      .attr('class', 'p-tick')
      .attr('x1', right).attr('x2', right + 5)
      .attr('y1', d => y(d)).attr('y2', d => y(d))
      .attr('stroke', 'black');
    svg.selectAll('.p-label').data(priceTicks).enter().append('text')
      .attr('class', 'p-label')
      .attr('x', 1534)
      .attr('y', d => y(d) + 4)
      .style('font-family', MONO)
      .style('font-size', '11.4px')
      .style('fill', 'black')
      .text(d => d.toFixed(2));

    // last price marker
    const lastY = y(lastPrice);
    svg.append('path')
      .attr('d', `M1517,${lastY}L1523,${lastY - 7}H${WIDTH}V${lastY + 7}H1523Z`)
      .attr('fill', 'black');
    svg.append('text').attr('x', 1534).attr('y', lastY + 4)
      .style('font-family', MONO).style('font-size', '11.4px').style('fill', 'white')
      .text(lastPrice.toFixed(2));

    // date axis
    svg.selectAll('.d-tick').data(dateTicks).enter().append('line')
      .attr('class', 'd-tick')
      .attr('x1', d => x(d)).attr('x2', d => x(d))
      .attr('y1', bottom).attr('y2', bottom + 5)
      .attr('stroke', 'black');
    svg.selectAll('.d-label').data(dateTicks).enter().append('text')
      .attr('class', 'd-label')
      .attr('x', d => x(d))
      .attr('y', 805)
      .attr('text-anchor', 'middle')
      .style('font-family', MONO)
      .style('font-size', '11.4px')
      .style('fill', 'black')
      .text((_, i) => dateLabels[i]);

    svg.append('text').attr('x', 13).attr('y', 776)
      .style('font-family', MONO).style('font-size', '11.4px').style('fill', '#222')
      .text('© 2020 NinjaTrader, LLC');
  }, []);

  return (
    <svg ref={svgRef} width={WIDTH} height={HEIGHT} style={{ position: 'absolute', left: 0, top: 0, display: 'block' }} />
  );
};

export default App;
